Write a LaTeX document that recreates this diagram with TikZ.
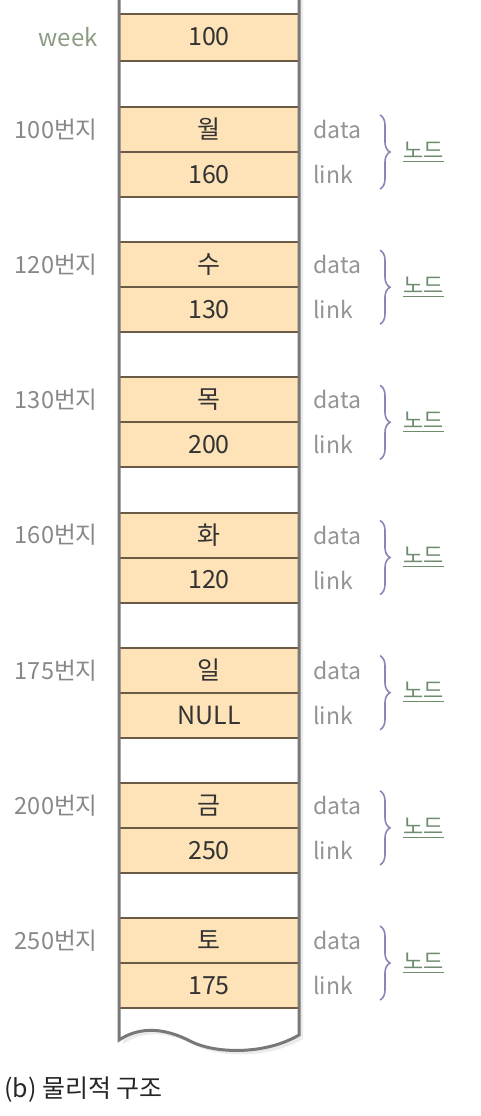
\documentclass[tikz,border=0pt]{standalone}
\usepackage{fontspec}
\setmainfont{Noto Sans CJK KR}
\usetikzlibrary{positioning, calc, decorations.pathreplacing}
\definecolor{cellfill}{HTML}{FDE3B7}
\definecolor{cellline}{HTML}{6B5A45}
\definecolor{sideline}{HTML}{787878}
\definecolor{labgray}{HTML}{888888}
\definecolor{weekgreen}{HTML}{8C9C84}
\definecolor{nodegreen}{HTML}{6F8C6F}
\definecolor{bracecol}{HTML}{8886B6}
\tikzset{
  cell/.style={draw=cellline, line width=1pt, fill=cellfill, minimum width=90pt,
    minimum height=22.5pt, inner sep=0pt, outer sep=0pt, text=black!80,
    font=\fontsize{12.5}{14}\selectfont},
  addr/.style={text=labgray, inner sep=0pt, font=\fontsize{11.8}{13}\selectfont},
  field/.style={text=labgray!90, inner sep=0pt, font=\fontsize{11.5}{13}\selectfont},
  side/.style={draw=sideline, line width=1.5pt},
  nodebrace/.style={draw=bracecol, line width=0.8pt, decorate,
    decoration={brace, amplitude=5pt}},
}

\begin{document}
\begin{tikzpicture}[x=0.5pt, y=-0.5pt]
  \useasboundingbox (0,0) rectangle (481,1116);
  % memory column with wavy cut at the bottom (light shadow first)
  \fill[black!8] (123,0) -- (123,1044) .. controls (144,1030) and (169,1032) .. (194,1045)
    .. controls (219,1058) and (269,1059) .. (303,1039) -- (303,0) -- cycle;
  \fill[white] (119,0) -- (119,1040) .. controls (140,1026) and (165,1028) .. (190,1041)
    .. controls (215,1054) and (265,1055) .. (299,1035) -- (299,0) -- cycle;

  % pointer variable
  \node[cell, minimum height=23.5pt] (w) at (209,37) {100};
  \node[addr, left=10.5pt of w, text=weekgreen, font=\fontsize{12}{14}\selectfont] (wl) {week};

  % nodes: address / data / link
  \foreach \a/\d/\l [count=\i from 0] in {100/월/160, 120/수/130, 130/목/200,
      160/화/120, 175/일/NULL, 200/금/250, 250/토/175} {
    \node[cell] (d\i) at (209,{129.5+135.17*\i}) {\d};
    \node[cell, below=0pt of d\i] (l\i) {\l};
    \node[addr, left=10.5pt of d\i] (a\i) {{\a}번지};
    \node[field, right=7pt of d\i] (fd\i) {data};
    \node[field, right=7pt of l\i] (fl\i) {link};
    \draw[nodebrace] ($(d\i.north east)+(81,8)$) -- ($(l\i.south east)+(81,-8)$);
    \node[anchor=west, inner sep=0pt, text=nodegreen, font=\fontsize{11}{13}\selectfont]
      (n\i) at ($(d\i.south east)+(104,0)$) {\underline{노드}};
  }

  % side walls over the cells
  \draw[side] (119,0) -- (119,1040) .. controls (140,1026) and (165,1028) .. (190,1041)
    .. controls (215,1054) and (265,1055) .. (299,1035) -- (299,0);

  \node[anchor=west, inner sep=0pt, text=black!85, font=\fontsize{12.5}{14}\selectfont]
    (cap) at (4,1090) {(b) 물리적 구조};
\end{tikzpicture}
\end{document}
